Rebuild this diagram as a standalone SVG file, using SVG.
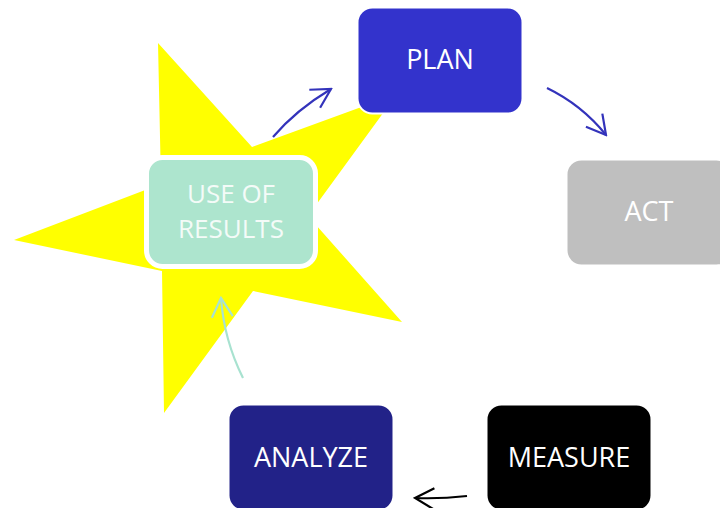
<svg xmlns="http://www.w3.org/2000/svg" width="720" height="508" viewBox="0 0 720 508">
<style>
.box{stroke:#ffffff;stroke-width:2}
.lbl{font-family:"Open Sans","Liberation Sans",sans-serif;font-size:27px;fill:#ffffff;text-anchor:middle}
.con{fill:none;stroke-width:2.2}
</style>
<defs>
<marker id="mBlue" markerUnits="userSpaceOnUse" markerWidth="24" markerHeight="24" viewBox="-22 -12 24 24" refX="0" refY="0" orient="auto">
<path d="M-19,-10.5 L0,0 L-19,10.5" fill="none" stroke="#3333bb" stroke-width="2.2"/>
</marker>
<marker id="mBlack" markerUnits="userSpaceOnUse" markerWidth="24" markerHeight="24" viewBox="-22 -12 24 24" refX="0" refY="0" orient="auto">
<path d="M-19,-10.5 L0,0 L-19,10.5" fill="none" stroke="#000000" stroke-width="2.2"/>
</marker>
<marker id="mMint" markerUnits="userSpaceOnUse" markerWidth="24" markerHeight="24" viewBox="-22 -12 24 24" refX="0" refY="0" orient="auto">
<path d="M-19,-10.5 L0,0 L-19,10.5" fill="none" stroke="#a8e2d0" stroke-width="2.2"/>
</marker>
</defs>
<rect width="720" height="508" fill="#ffffff"/>
<polygon id="star" points="158,43 252,147 397,94 308,216 402,322 253,291 164,413 162,271 14,240 161,184" fill="#ffff00"/>
<g id="connectors">
<path class="con" d="M273,137 Q296,110 331,89" stroke="#3333bb" marker-end="url(#mBlue)"/>
<path class="con" d="M547,88 Q582,105 606,135" stroke="#3333bb" marker-end="url(#mBlue)"/>
<path class="con" d="M467,496 Q440,499 415,498" stroke="#000000" marker-end="url(#mBlack)"/>
<path class="con" d="M243,378 Q224,340 221,298" stroke="#a8e2d0" marker-end="url(#mMint)"/>
</g>
<g id="plan">
<rect class="box" x="357.5" y="7.5" width="165" height="106" rx="15" fill="#3333cc"/>
<text class="lbl" x="440" y="69">PLAN</text>
</g>
<g id="act">
<rect class="box" x="566.5" y="159.5" width="165" height="106" rx="15" fill="#bfbfbf"/>
<text class="lbl" x="649" y="221">ACT</text>
</g>
<g id="measure">
<rect class="box" x="486.5" y="404.5" width="165" height="106" rx="15" fill="#000000"/>
<text class="lbl" x="569" y="467">MEASURE</text>
</g>
<g id="analyze">
<rect class="box" x="228.5" y="404.5" width="165" height="106" rx="15" fill="#222288"/>
<text class="lbl" x="311" y="467">ANALYZE</text>
</g>
<g id="use-of-results">
<rect x="146.5" y="157.5" width="169" height="109" rx="16" fill="#ade5ce" stroke="#ffffff" stroke-width="5"/>
<text class="lbl" x="231" y="203" style="font-size:26px;fill:#f4fbf8">USE OF</text>
<text class="lbl" x="231" y="238" style="font-size:26px;fill:#f4fbf8">RESULTS</text>
</g>
</svg>
